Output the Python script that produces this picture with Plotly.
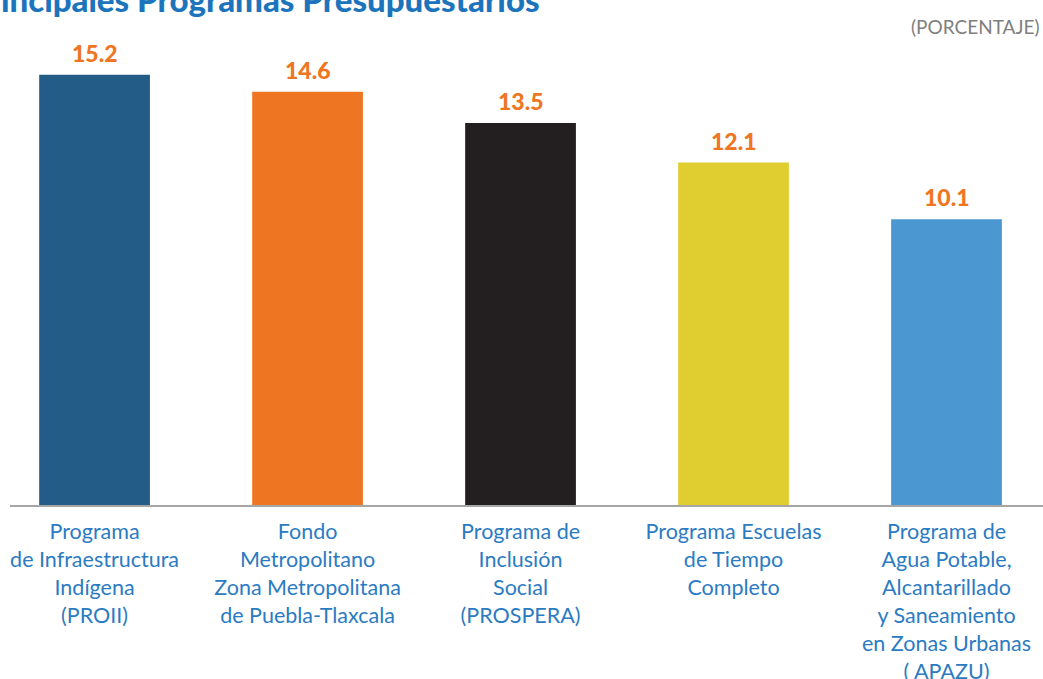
import plotly.graph_objects as go

programas = [
    "Programa<br>de Infraestructura<br>Indígena<br>(PROII)",
    "Fondo<br>Metropolitano<br>Zona Metropolitana<br>de Puebla-Tlaxcala",
    "Programa de<br>Inclusión<br>Social<br>(PROSPERA)",
    "Programa Escuelas<br>de Tiempo<br>Completo",
    "Programa de<br>Agua Potable,<br>Alcantarillado<br>y Saneamiento<br>en Zonas Urbanas<br>( APAZU)",
]
porcentaje = [15.2, 14.6, 13.5, 12.1, 10.1]
etiquetas = ["15.2", "14.6", "13.5", "12.1", "10.1"]
colores = ["#235d87", "#ee7623", "#231f20", "#e0ce30", "#4a97d2"]

azul = "#2b7bc2"
naranja = "#ee7623"

fig = go.Figure()
fig.add_trace(go.Bar(
    x=list(range(len(programas))), y=porcentaje,
    marker=dict(color=colores, line=dict(width=0)),
    width=0.52, hoverinfo="skip",
))

for i, (v, t) in enumerate(zip(porcentaje, etiquetas)):
    fig.add_annotation(x=i, y=v, text=t, showarrow=False, yanchor="bottom", yshift=6,
                       font=dict(family="Lato", size=23, color=naranja, weight=900))

fig.add_annotation(text="Principales Programas Presupuestarios", xref="paper", yref="paper",
                   x=0.515, y=1, xanchor="right", yanchor="middle", yshift=41, showarrow=False,
                   font=dict(family="Lato", size=33, color="#1c75bc", weight=900))
fig.add_annotation(text="(PORCENTAJE)", xref="paper", yref="paper", x=1, y=1,
                   xanchor="right", yanchor="middle", yshift=14, xshift=-2, showarrow=False,
                   font=dict(family="Lato", size=19, color="#808080"))

fig.update_layout(
    width=1043, height=679,
    margin=dict(l=10, r=0, t=40, b=174),
    plot_bgcolor="white", paper_bgcolor="white",
    showlegend=False,
    font=dict(family="Lato", size=21.5, color=azul),
)
fig.update_xaxes(
    tickmode="array", tickvals=list(range(len(programas))), ticktext=programas,
    range=[-0.397, 4.453], showline=True, linecolor="#a6a6a6", linewidth=2,
    showgrid=False, zeroline=False, ticks="", ticklabelstandoff=6, automargin=False,
    tickfont=dict(family="Lato", size=21.5, color=azul),
)
fig.update_yaxes(range=[0, 16.43], visible=False, showgrid=False, automargin=False)

fig.write_html("out.html", config={"displayModeBar": False},
               post_script="document.body.style.margin='0';")
